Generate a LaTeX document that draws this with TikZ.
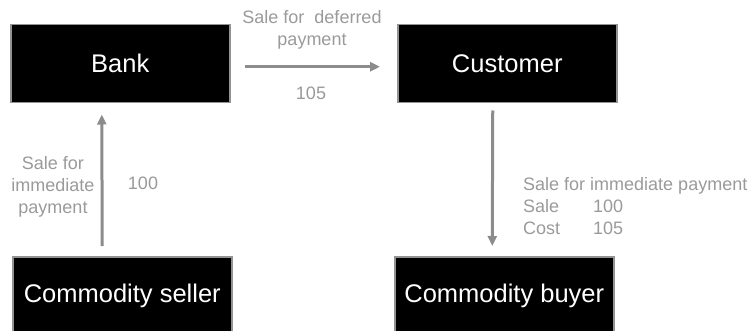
\documentclass[tikz,border=0pt]{standalone}
\usepackage{fontspec}
\setmainfont{Liberation Sans}
\usetikzlibrary{arrows.meta}
\definecolor{linegray}{HTML}{8C8C8C}
\definecolor{textgray}{HTML}{9A9A9A}
\definecolor{edgegray}{HTML}{939393}
\begin{document}
\begin{tikzpicture}[x=1pt,y=-1pt,
  party/.style={draw=edgegray, line width=1.5pt, fill=black, text=white,
    font=\fontsize{25.5}{30}\selectfont, minimum width=219pt,
    minimum height=78pt, inner sep=0pt, anchor=north west},
  flow/.style={draw=linegray, line width=3pt,
    -{Triangle[length=10pt,width=9pt]}},
  note/.style={text=textgray, font=\fontsize{18}{22}\selectfont, inner sep=0pt}]
  \useasboundingbox (0,0) rectangle (754,331);
  \clip (0,0) rectangle (754,331);

  % parties
  \node[party] (bank)   at (10,24)   {Bank};
  \node[party] (cust)   at (397,24)  {Customer};
  \node[party] (seller) at (12,256)  {Commodity seller};
  \node[party] (buyer)  at (394,256) {Commodity buyer};

  % flows
  \draw[flow] ([shift={(14,3)}]bank.east) -- ([shift={(-17,3)}]cust.west);
  \draw[flow] ([shift={(-20,-10)}]seller.north) -- ([shift={(-18.5,11)}]bank.south);
  \draw[flow] ([shift={(-14.5,7)}]cust.south) -- ([shift={(-12,-10)}]buyer.north);

  % labels
  \node[note, align=center] (deferred) at (312,29.5) {Sale for\ \ deferred\\payment};
  \node[note] (price105) at (311,93) {105};
  \node[note, align=center] (immediate) at (53,187) {Sale for\\immediate\\payment};
  \node[note] (price100) at (143,183) {100};
  \node[note, align=left, anchor=west] (terms) at (523,206)
    {Sale for immediate payment\\
     \makebox[70pt][l]{Sale}100\\
     \makebox[70pt][l]{Cost}105};
\end{tikzpicture}
\end{document}
